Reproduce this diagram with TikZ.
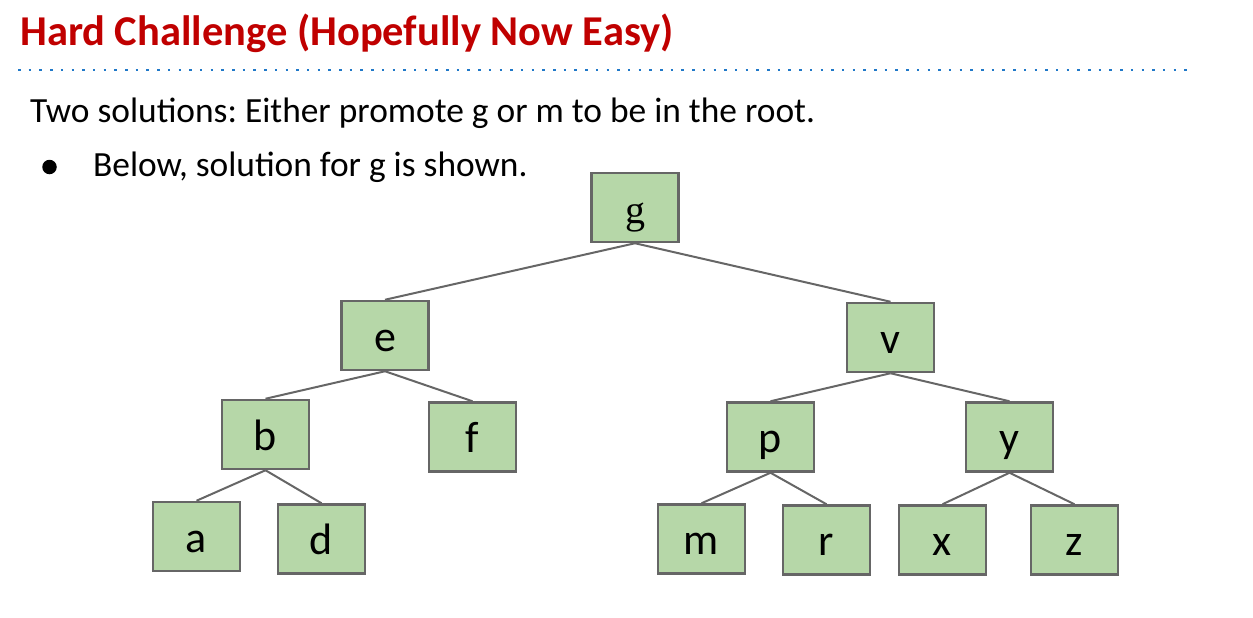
\documentclass[tikz,border=0pt]{standalone}
\usepackage{fontspec}
\setmainfont{Carlito}
\newfontfamily\serifg{Liberation Serif}
\definecolor{titlered}{HTML}{C00000}
\definecolor{dotblue}{HTML}{1F78C8}
\definecolor{boxgreen}{HTML}{B6D7A8}
\definecolor{edgegray}{HTML}{666666}
\tikzset{
  treenode/.style={draw=edgegray, line width=2.5pt, fill=boxgreen, minimum width=87pt, minimum height=69pt, inner sep=0pt, text height=31pt, text depth=0pt, font=\fontsize{44}{44}\selectfont},
  edge/.style={draw=edgegray, line width=2pt},
  txt/.style={anchor=base west, inner sep=0pt}
}
\frenchspacing
\begin{document}
\begin{tikzpicture}[x=1pt,y=-1pt]
\useasboundingbox (0,0) rectangle (1253,618);
\node[txt, text=titlered, font=\fontsize{42.5}{42.5}\selectfont\bfseries] (title) at (20,46) {Hard Challenge (Hopefully Now Easy)};
\draw[dotblue, line width=2.5pt, dash pattern=on 2.5pt off 8.2pt] (18,70) -- (1194,70);
\node[txt, font=\fontsize{35.4}{35.4}\selectfont] (line1) at (30,122) {Two solutions: Either promote g or m to be in the root.};
\node[circle, fill=black, inner sep=0pt, minimum size=14.5pt] (bul) at (49.5,167) {};
\node[txt, font=\fontsize{35.4}{35.4}\selectfont] (line2) at (93,176) {Below, solution for g is shown.};

\node[treenode, font=\fontsize{40}{40}\selectfont\serifg] (g) at (635,207.5) {g};
\node[treenode] (e) at (385,335.5) {e};
\node[treenode] (v) at (890.5,337.5) {v};
\node[treenode] (b) at (265.5,434.5) {b};
\node[treenode] (f) at (472.5,437) {f};
\node[treenode] (p) at (770.5,437) {p};
\node[treenode] (y) at (1009.5,437) {y};
\node[treenode] (a) at (196.5,536.5) {a};
\node[treenode] (d) at (321.5,539) {d};
\node[treenode] (m) at (701.5,539) {m};
\node[treenode] (r) at (826.5,540) {r};
\node[treenode] (x) at (942.5,540) {x};
\node[treenode] (z) at (1074.5,540) {z};

\draw[edge] (g.south) -- (e.north);
\draw[edge] (g.south) -- (v.north);
\draw[edge] (e.south) -- (b.north);
\draw[edge] (e.south) -- (f.north);
\draw[edge] (b.south) -- (a.north);
\draw[edge] (b.south) -- (d.north);
\draw[edge] (v.south) -- (p.north);
\draw[edge] (v.south) -- (y.north);
\draw[edge] (p.south) -- (m.north);
\draw[edge] (p.south) -- (r.north);
\draw[edge] (y.south) -- (x.north);
\draw[edge] (y.south) -- (z.north);
\end{tikzpicture}
\end{document}
